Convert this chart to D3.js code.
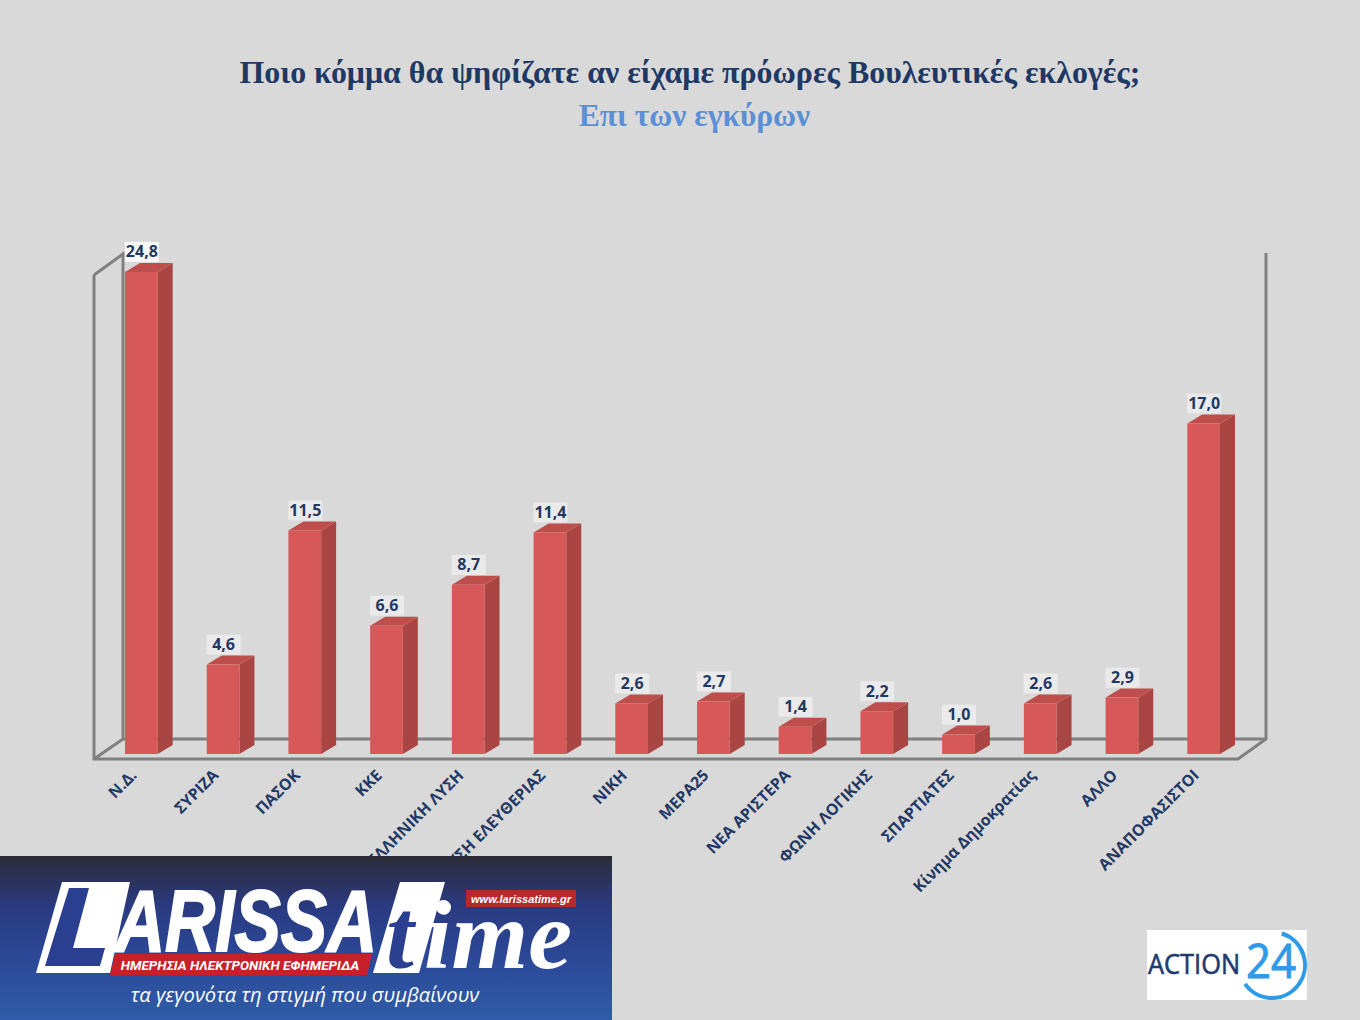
<!DOCTYPE html>
<html><head><meta charset="utf-8">
<script src="https://cdn.jsdelivr.net/npm/d3@7/dist/d3.min.js"></script>
<style>html,body{margin:0;padding:0;background:#d9d9d9;overflow:hidden}svg{display:block}</style>
</head><body><svg id="c" width="1360" height="1020"></svg>
<script>
const categories = ["Ν.Δ.","ΣΥΡΙΖΑ","ΠΑΣΟΚ","ΚΚΕ","ΕΛΛΗΝΙΚΗ ΛΥΣΗ","ΠΛΕΥΣΗ ΕΛΕΥΘΕΡΙΑΣ","ΝΙΚΗ","ΜΕΡΑ25","ΝΕΑ ΑΡΙΣΤΕΡΑ","ΦΩΝΗ ΛΟΓΙΚΗΣ","ΣΠΑΡΤΙΑΤΕΣ","Κίνημα Δημοκρατίας","ΑΛΛΟ","ΑΝΑΠΟΦΑΣΙΣΤΟΙ"];
const values = [24.8,4.6,11.5,6.6,8.7,11.4,2.6,2.7,1.4,2.2,1.0,2.6,2.9,17.0];
const titleLine = "Ποιο κόμμα θα ψηφίζατε αν είχαμε πρόωρες Βουλευτικές εκλογές;";
const subtitleLine = "Επι των εγκύρων";

const svg = d3.select("#c");
const defs = svg.append("defs");
const bg = defs.append("linearGradient").attr("id","banner").attr("x1",0).attr("x2",0).attr("y1",0).attr("y2",1);
[[0,"#2b2b37"],[0.3,"#2a3a80"],[0.6,"#2b4796"],[1,"#2f5ca8"]].forEach(s=>bg.append("stop").attr("offset",s[0]).attr("stop-color",s[1]));

svg.append("rect").attr("width",1360).attr("height",1020).attr("fill","#d9d9d9");

svg.append("text").attr("x",690).attr("y",83).attr("text-anchor","middle")
  .attr("font-family","Liberation Serif").attr("font-weight","bold").attr("font-size",31.9).attr("fill","#1f3864").text(titleLine);
svg.append("text").attr("x",694.5).attr("y",126).attr("text-anchor","middle")
  .attr("font-family","Liberation Serif").attr("font-weight","bold").attr("font-size",31.5).attr("fill","#5b8fd6").text(subtitleLine);

const x = d3.scaleBand().domain(categories).range([100.5,1244.5]).paddingInner(0.6).paddingOuter(0.3);
const y = d3.scaleLinear().domain([0,25]).range([754,268]);
const dx = 15, dy = -9;

const frame = svg.append("g").attr("fill","none").attr("stroke","#808080").attr("stroke-width",3).attr("stroke-linejoin","miter");
const line = d3.line();
[[[94,275],[94,759],[1238,759],[1266,739],[1266,253]],
 [[94,275],[123,254],[123,739]],
 [[94,759],[123,739],[1266,739]]].forEach(p=>frame.append("path").attr("d",line(p)));

const bars = svg.append("g").selectAll("g").data(categories).join("g");
bars.each(function(c,i){
  const g = d3.select(this);
  const x0 = x(c), x1 = x0+x.bandwidth(), yt = y(values[i]), yb = y(0);
  g.append("path").attr("fill","#a94643").attr("d",line([[x1,yt],[x1+dx,yt+dy],[x1+dx,yb+dy],[x1,yb]])+"Z");
  g.append("path").attr("fill","#bd4e4c").attr("d",line([[x0,yt],[x0+dx,yt+dy],[x1+dx,yt+dy],[x1,yt]])+"Z");
  g.append("rect").attr("x",x0).attr("y",yt).attr("width",x.bandwidth()).attr("height",yb-yt).attr("fill","#d65858");
  const cx = x0+x.bandwidth()/2+0.5;
  const label = d3.format(".1f")(values[i]).replace(".",",");
  g.append("rect").attr("x",cx-17).attr("y",yt-30).attr("width",34).attr("height",20).attr("fill","#ffffff").attr("opacity",i===0?0.8:0.45);
  g.append("text").attr("x",cx).attr("y",yt-14.5).attr("text-anchor","middle")
    .attr("font-family","Open Sans").attr("font-weight","bold").attr("font-size",16).attr("fill","#1f3864").text(label);
  g.append("text").attr("transform",`translate(${x0+x.bandwidth()/2-12},${768}) rotate(-45)`).attr("text-anchor","end").attr("dy","0.75em")
    .attr("font-family","Open Sans").attr("font-weight","bold").attr("font-size",15.8).attr("fill","#1f3864").text(c);
});

// Larissa Time banner
const b = svg.append("g");
b.append("rect").attr("x",0).attr("y",856).attr("width",612).attr("height",164).attr("fill","url(#banner)");
b.append("path").attr("fill","#fff").attr("d",line([[62,882],[130,882],[110,973],[36,973]])+"Z");
b.append("path").attr("fill","#2a3f8f").attr("d",line([[69,888],[89,888],[73,948],[105,948],[100,966],[45,966]])+"Z");
b.append("text").attr("x",115).attr("y",951).attr("font-family","Liberation Sans").attr("font-weight","bold").attr("font-style","italic").attr("font-size",88).attr("textLength",262).attr("lengthAdjust","spacingAndGlyphs").attr("fill","#fff").attr("stroke","#fff").attr("stroke-width",2).text("ARISSA");
b.append("path").attr("fill","#fff").attr("d",line([[400,882],[445,882],[419,973],[373,973]])+"Z");
b.append("text").attr("x",386).attr("y",968).attr("font-family","Liberation Serif").attr("font-weight","bold").attr("font-style","italic").attr("font-size",100).attr("fill","#2a3f8f").text("t");
b.append("text").attr("x",424).attr("y",968).attr("font-family","Liberation Serif").attr("font-style","italic").attr("font-weight","bold").attr("font-size",98).attr("textLength",148).attr("lengthAdjust","spacingAndGlyphs").attr("fill","#fff").text("ime");
b.append("rect").attr("x",466).attr("y",890).attr("width",110).attr("height",17).attr("fill","#b5282e");
b.append("text").attr("x",521).attr("y",903).attr("text-anchor","middle").attr("font-family","Liberation Sans").attr("font-weight","bold").attr("font-style","italic").attr("font-size",11).attr("fill","#fff").text("www.larissatime.gr");
b.append("path").attr("fill","#c8202a").attr("d",line([[115,954],[372,954],[367,975],[110,975]])+"Z");
b.append("text").attr("x",240).attr("y",969.5).attr("text-anchor","middle").attr("font-family","Roboto").attr("font-weight","bold").attr("font-style","italic").attr("font-size",13.5).attr("fill","#fff").text("ΗΜΕΡΗΣΙΑ ΗΛΕΚΤΡΟΝΙΚΗ ΕΦΗΜΕΡΙΔΑ");
b.append("text").attr("x",305).attr("y",1002).attr("text-anchor","middle").attr("font-family","Open Sans").attr("font-style","italic").attr("font-size",20.2).attr("fill","#fff").text("τα γεγονότα τη στιγμή που συμβαίνουν");

// Action 24 logo
const a = svg.append("g");
a.append("rect").attr("x",1147).attr("y",930).attr("width",160).attr("height",70).attr("fill","#fff");
a.append("text").attr("x",1148).attr("y",974).attr("font-family","Open Sans").attr("font-size",28).attr("textLength",92).attr("lengthAdjust","spacingAndGlyphs").attr("fill","#1f3a6e").attr("stroke","#1f3a6e").attr("stroke-width",0.6).text("ACTION");
a.append("text").attr("x",1246).attr("y",978).attr("font-family","Open Sans").attr("font-size",48).attr("textLength",50).attr("lengthAdjust","spacingAndGlyphs").attr("fill","#2f9be8").attr("stroke","#2f9be8").attr("stroke-width",1).text("24");
a.append("path").attr("fill","none").attr("stroke","#2f9be8").attr("stroke-width",4)
  .attr("transform","translate(1272,965)")
  .attr("d",d3.arc().innerRadius(33).outerRadius(33).startAngle(0.3).endAngle(4.1)());
</script></body></html>
